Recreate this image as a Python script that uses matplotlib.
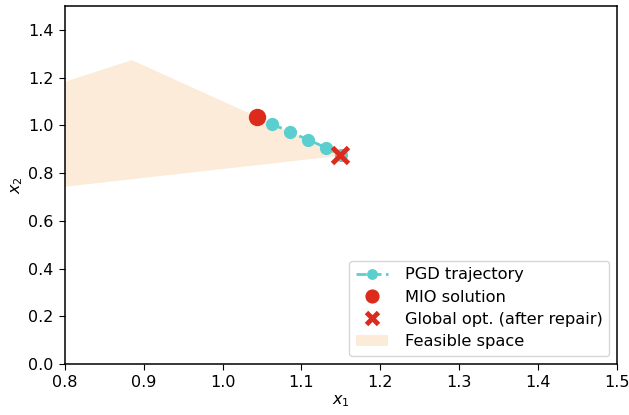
import matplotlib
matplotlib.use("Agg")
import matplotlib.pyplot as plt
import numpy as np

# feasible region polygon (x1, x2)
feas_x1 = [0.8, 0.885, 1.152, 0.8]
feas_x2 = [1.183, 1.274, 0.874, 0.743]

# PGD trajectory
pgd_x1 = [1.063, 1.085, 1.108, 1.131, 1.150]
pgd_x2 = [1.006, 0.973, 0.941, 0.907, 0.876]

mio_x1, mio_x2 = 1.043, 1.036
opt_x1, opt_x2 = 1.149, 0.877

plt.rcParams['font.size'] = 11.5
plt.rcParams['axes.linewidth'] = 1.1
plt.rcParams['xtick.major.size'] = 4.5
plt.rcParams['ytick.major.size'] = 4.5

fig, ax = plt.subplots(figsize=(6.29, 4.15), dpi=100)
fig.subplots_adjust(left=0.103, right=0.981, top=0.985, bottom=0.123)

ax.fill(feas_x1, feas_x2, color='#FDEBD9', lw=0, label='Feasible space', zorder=1)
ax.plot(pgd_x1, pgd_x2, '--o', color='#5BCFCF', lw=2, markersize=8.5,
        label='PGD trajectory', zorder=2)
ax.plot(mio_x1, mio_x2, 'o', color='#DC2A1C', markersize=11.5, linestyle='none',
        label='MIO solution', zorder=3)
ax.plot(opt_x1, opt_x2, 'x', color='#DC2A1C', markersize=11, mew=3.5, linestyle='none',
        label='Global opt. (after repair)', zorder=4)

ax.set_xlim(0.8, 1.5)
ax.set_ylim(0.0, 1.5)
ax.set_xticks(np.arange(0.8, 1.51, 0.1))
ax.set_yticks(np.arange(0.0, 1.41, 0.2))
ax.set_xlabel('$x_1$', labelpad=2)
ax.set_ylabel('$x_2$', labelpad=2)

handles, labels = ax.get_legend_handles_labels()
order = [1, 2, 3, 0]
ax.legend([handles[i] for i in order], [labels[i] for i in order], loc='lower right',
          fontsize=11.7, markerscale=0.8, borderaxespad=0.5, handletextpad=1.0,
          labelspacing=0.45)

fig.savefig('out.png', dpi=100)
